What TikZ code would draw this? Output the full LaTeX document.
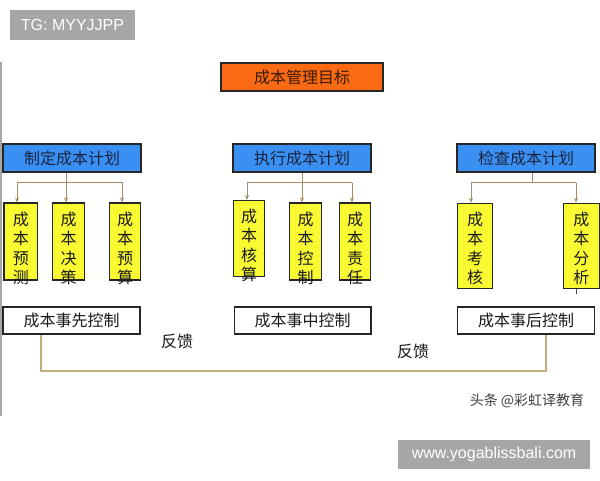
\documentclass[tikz,border=0pt]{standalone}
\usepackage{fontspec}
\setmainfont{Liberation Sans}
\newfontfamily\cjk{Noto Sans CJK SC}
\usetikzlibrary{arrows.meta}
\definecolor{orangebox}{HTML}{FA6A12}
\definecolor{bluebox}{HTML}{3A8FF2}
\definecolor{yellowbox}{HTML}{FAFA32}
\definecolor{conn}{HTML}{A88C64}
\definecolor{fback}{HTML}{C4AC7E}
\definecolor{wmgray}{HTML}{A6A6A6}
\definecolor{navytext}{HTML}{1A2440}
\definecolor{orangetext}{HTML}{3A1A08}
\tikzset{
  box/.style={draw=black!85, line width=1.2pt, inner sep=0pt, minimum height=28pt},
  orangestyle/.style={box, fill=orangebox, font=\cjk\fontsize{16}{16}\selectfont, text=orangetext},
  bluestyle/.style={box, fill=bluebox, font=\cjk\fontsize{16}{16}\selectfont, text=navytext},
  whitestyle/.style={box, fill=white, minimum height=27pt, font=\cjk\fontsize{16}{16}\selectfont, text=black!90},
  ybox/.style={draw=black!85, line width=1.2pt, fill=yellowbox, inner sep=0pt},
  vtext/.style={anchor=north, inner sep=0pt, align=center, font=\cjk\fontsize{16}{19.2}\selectfont, text=black!90},
  link/.style={draw=conn, line width=1pt},
  arrowlink/.style={link, -{Stealth[length=5pt,width=4pt]}},
  feedback/.style={draw=fback, line width=1.6pt},
  lbl/.style={font=\cjk\fontsize{16}{16}\selectfont, text=black!90, inner sep=0pt},
  wmbox/.style={fill=wmgray, text=white, inner sep=0pt, font=\fontsize{16}{16}\selectfont}
}
\begin{document}
\begin{tikzpicture}[x=1pt,y=-1pt]
\useasboundingbox (0,0) rectangle (600,480);
\fill[white] (0,0) rectangle (600,480);

% left border line
\coordinate (bt) at (1,62);
\coordinate (bb) at (1,416);
\draw[draw=black!35, line width=1.4pt] (bt) -- (bb);

% watermarks
\node[wmbox, minimum width=125pt, minimum height=30pt] (tg) at (72.5,25) {TG: MYYJJPP};
\node[wmbox, minimum width=192pt, minimum height=29pt] (url) at (494,454.5) {www.yogablissbali.com};
\node[font=\cjk\fontsize{14}{14}\selectfont, text=black!75, inner sep=0pt] (tt) at (527,401) {头条 @彩虹译教育};

% top goal
\node[orangestyle, minimum width=162pt] (goal) at (302,77) {成本管理目标};

% blue plan boxes
\node[bluestyle, minimum width=138pt] (p1) at (72,158) {制定成本计划};
\node[bluestyle, minimum width=138pt] (p2) at (302,158) {执行成本计划};
\node[bluestyle, minimum width=138pt] (p3) at (526,158) {检查成本计划};

% yellow boxes, left group
\node[ybox, minimum width=33.7pt, minimum height=77pt] (a1) at (20.8,241.5) {};
\node[ybox, minimum width=31.6pt, minimum height=77pt] (a2) at (68.5,241.5) {};
\node[ybox, minimum width=31.4pt, minimum height=77pt] (a3) at (125,241.5) {};
\node[vtext] (ta1) at (20.8,212) {成\\本\\预\\测};
\node[vtext] (ta2) at (68.5,212) {成\\本\\决\\策};
\node[vtext] (ta3) at (125,212) {成\\本\\预\\算};

% yellow boxes, middle group
\node[ybox, minimum width=31.7pt, minimum height=76pt] (b1) at (249,238.7) {};
\node[ybox, minimum width=32.4pt, minimum height=77pt] (b2) at (305.5,241.5) {};
\node[ybox, minimum width=31.4pt, minimum height=77pt] (b3) at (355,241.5) {};
\node[vtext] (tb1) at (249,209) {成\\本\\核\\算};
\node[vtext] (tb2) at (305.5,212) {成\\本\\控\\制};
\node[vtext] (tb3) at (355,212) {成\\本\\责\\任};

% yellow boxes, right group
\node[ybox, minimum width=35.4pt, minimum height=85.4pt] (c1) at (475,246) {};
\node[ybox, minimum width=36pt, minimum height=85.4pt] (c2) at (581.3,246) {};
\node[vtext] (tc1) at (475,212) {成\\本\\考\\核};
\node[vtext] (tc2) at (581.3,212) {成\\本\\分\\析};

% connectors, left group
\coordinate (ja) at (66,182);
\coordinate (ja1) at (17,182);
\coordinate (ja3) at (122,182);
\draw[link] (p1.south -| ja) -- (ja);
\draw[link] (ja1) -- (ja3);
\draw[arrowlink] (ja1) -- (ja1 |- a1.north);
\draw[arrowlink] (ja) -- (ja |- a2.north);
\draw[arrowlink] (ja3) -- (ja3 |- a3.north);

% connectors, middle group
\coordinate (jb) at (302,182.5);
\coordinate (jb1) at (247,182.5);
\coordinate (jb3) at (352,182.5);
\draw[link] (p2.south -| jb) -- (jb);
\draw[link] (jb1) -- (jb3);
\draw[arrowlink] (jb1) -- (jb1 |- b1.north);
\draw[arrowlink] (jb) -- (jb |- b2.north);
\draw[arrowlink] (jb3) -- (jb3 |- b3.north);

% connectors, right group
\coordinate (jc) at (532.7,182.7);
\coordinate (jc1) at (471,182.7);
\coordinate (jc2) at (576,182.7);
\draw[link] (p3.south -| jc) -- (jc);
\draw[link] (jc1) -- (jc2);
\draw[arrowlink] (jc1) -- (jc1 |- c1.north);
\draw[arrowlink] (jc2) -- (jc2 |- c2.north);

% small stub under c2
\coordinate (stub) at (576,294);
\draw[draw=black!70, line width=1pt] (stub |- c2.south) -- (stub);

% bottom control boxes
\node[whitestyle, minimum width=137pt] (w1) at (71.5,320.5) {成本事先控制};
\node[whitestyle, minimum width=136.7pt] (w2) at (302.6,320.5) {成本事中控制};
\node[whitestyle, minimum width=137.7pt] (w3) at (526,320.5) {成本事后控制};

% feedback loop
\coordinate (fl) at (41,371);
\coordinate (fr) at (546,371);
\draw[feedback] (w1.south -| fl) -- (fl) -- (fr) -- (fr |- w3.south);
\node[lbl] (fb1) at (177,341) {反馈};
\node[lbl] (fb2) at (413,351) {反馈};
\end{tikzpicture}
\end{document}
